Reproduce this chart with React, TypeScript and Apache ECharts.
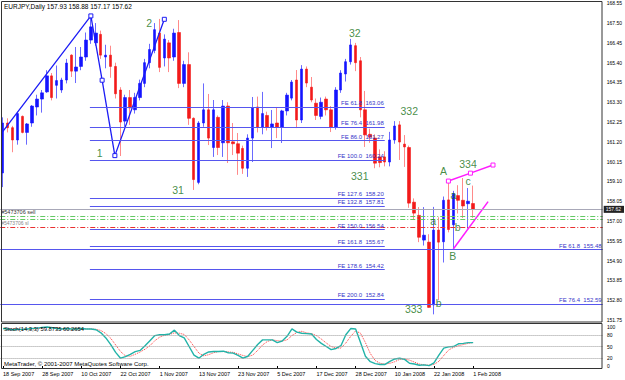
import React, { useEffect, useRef } from 'react';
import * as echarts from 'echarts';

// ---------- DATA ----------
const symbolName = 'EURJPY,Daily';
const dateLabels = ['18 Sep 2007', '28 Sep 2007', '10 Oct 2007', '22 Oct 2007', '1 Nov 2007', '13 Nov 2007', '23 Nov 2007', '5 Dec 2007', '17 Dec 2007', '28 Dec 2007', '10 Jan 2008', '22 Jan 2008', '1 Feb 2008'];
const barsPerLabel = 8;

const opens = [159.55, 162.2, 161.95, 161.3, 162.55, 161.7, 162.2, 163.05, 163.47, 163.85,
  164.7, 164.2, 163.95, 164.48, 165.8, 164.95, 165.2, 165.7, 166.6, 166.45,
  166.9, 165.7, 165.8, 165.2, 163.95, 162.3, 163.55, 162.9, 163.55, 164.3,
  165.4, 166.05, 166.97, 165.65, 166.45, 165.7, 167.0, 164.3, 165.3, 162.45,
  159.05, 162.2, 162.9, 160.9, 162.5, 161.15, 163.1, 161.2, 161.1, 160.85,
  159.8, 161.4, 163.05, 161.99, 162.6, 161.99, 162.2, 161.99, 162.84, 163.52,
  164.48, 162.36, 165.06, 164.1, 163.25, 162.55, 163.47, 162.9, 161.99, 163.95,
  164.8, 165.45, 166.3, 165.5, 162.9, 161.6, 161.4, 160.4, 160.4, 160.13,
  161.3, 162.1, 161.08, 160.9, 158.0, 157.3, 155.99, 155.88, 152.55, 156.52,
  155.9, 158.12, 156.8, 158.35, 158.1, 157.92, 157.93];
const highs = [162.5, 162.45, 162.05, 162.8, 162.6, 162.2, 163.15, 163.7, 163.95, 165.0,
  164.85, 165.25, 164.6, 165.6, 165.85, 166.23, 166.23, 167.0, 167.88, 167.5,
  167.1, 166.35, 166.3, 165.4, 164.1, 163.7, 163.95, 163.8, 164.5, 165.6,
  166.4, 167.5, 167.72, 166.9, 166.6, 167.2, 167.66, 165.5, 165.95, 162.5,
  162.3, 164.3, 163.74, 163.42, 162.6, 163.42, 163.3, 162.2, 161.67, 161.0,
  161.6, 163.58, 163.6, 163.85, 162.8, 162.89, 163.05, 162.9, 163.8, 164.48,
  165.01, 165.27, 165.2, 164.64, 163.5, 163.55, 163.6, 163.1, 164.1, 165.0,
  165.6, 166.66, 166.45, 165.7, 163.9, 161.9, 161.6, 160.8, 160.7, 161.73,
  162.3, 162.3, 161.56, 161.0, 158.2, 157.74, 157.74, 156.3, 157.75, 157.2,
  158.3, 159.12, 158.6, 158.9, 159.28, 158.75, 158.88];
const lows = [158.8, 161.7, 160.65, 161.05, 161.65, 161.05, 162.0, 162.6, 162.75, 163.8,
  163.4, 163.5, 163.8, 164.3, 164.64, 164.32, 165.0, 165.5, 166.4, 166.3,
  165.6, 165.1, 164.6, 163.5, 160.45, 162.0, 162.1, 162.7, 163.4, 164.1,
  165.1, 165.9, 164.9, 165.2, 164.9, 165.5, 164.05, 164.1, 162.1, 158.65,
  158.95, 162.0, 161.03, 160.4, 160.5, 160.4, 160.08, 160.5, 159.45, 159.5,
  159.34, 160.13, 161.7, 161.6, 161.8, 160.87, 161.4, 161.14, 162.6, 163.4,
  161.93, 162.2, 164.1, 163.3, 162.36, 162.4, 162.6, 161.72, 161.85, 163.8,
  164.4, 165.3, 164.95, 162.5, 160.93, 161.15, 159.8, 159.85, 159.9, 159.9,
  161.1, 160.24, 159.87, 157.7, 157.1, 155.88, 155.7, 152.4, 152.05, 152.8,
  154.8, 156.4, 155.5, 157.4, 157.16, 156.6, 157.17];
const closes = [162.2, 161.95, 161.3, 162.7, 161.7, 162.15, 163.1, 163.47, 163.8, 164.7,
  163.55, 164.45, 164.48, 165.38, 164.95, 165.17, 165.7, 166.6, 167.3, 166.97,
  165.8, 165.8, 165.2, 163.75, 162.25, 163.55, 163.0, 163.55, 164.3, 165.4,
  166.1, 167.15, 165.15, 166.65, 165.65, 166.97, 164.3, 165.3, 162.45, 159.2,
  162.2, 162.9, 161.4, 162.9, 160.9, 163.1, 161.15, 161.1, 160.6, 159.8,
  161.4, 162.99, 161.99, 162.7, 161.99, 162.15, 161.99, 162.84, 163.68, 164.37,
  162.36, 165.06, 164.32, 163.42, 162.6, 163.3, 162.9, 161.99, 163.95, 164.85,
  165.45, 166.34, 165.4, 162.9, 161.57, 161.45, 160.07, 160.1, 160.13, 161.3,
  162.04, 161.19, 160.93, 157.95, 157.42, 156.14, 156.25, 152.42, 156.52, 155.88,
  158.1, 156.55, 158.45, 158.1, 157.8, 158.05, 157.62];

const stochK = [96, 95, 93, 94, 94, 95, 96, 97, 99, 100,
  98, 96, 95, 96, 95, 95, 96, 95, 95, 93,
  85, 72, 55, 35, 20, 24, 30, 37, 40, 52,
  65, 78, 80, 80, 82, 92, 78, 72, 50, 28,
  20, 30, 36, 37, 37, 38, 34, 33, 27, 20,
  25, 40, 55, 67, 67, 67, 60, 64, 76, 95,
  87, 84, 83, 82, 68, 58, 50, 42, 45, 52,
  80, 96, 95, 60, 25, 11, 6, 4, 4, 12,
  18, 20, 17, 7, 5, 2, 3, 1, 8, 28,
  46, 49, 50, 57, 58, 60, 59.8735];
const stochD = [96, 96, 95, 94, 94, 94, 95, 96, 97, 99,
  99, 98, 96, 96, 95, 95, 95, 95, 95, 94,
  91, 83, 71, 54, 37, 26, 25, 30, 36, 43,
  52, 65, 74, 79, 81, 85, 84, 81, 67, 50,
  33, 26, 29, 34, 37, 37, 36, 35, 31, 27,
  24, 28, 40, 54, 63, 67, 65, 64, 67, 78,
  86, 89, 85, 83, 78, 69, 59, 50, 46, 46,
  59, 76, 90, 84, 60, 32, 14, 7, 5, 7,
  11, 17, 18, 15, 10, 5, 3, 2, 4, 12,
  27, 41, 48, 52, 55, 58, 60.2654];

const priceTickLabels = ['168.55', '167.50', '166.45', '165.40', '164.35', '163.30', '162.25', '161.20', '160.15', '159.10', '158.05', '157.00', '155.95', '154.90', '153.85', '152.80', '151.75'];
const stochTickLabels = [0, 20, 50, 80, 100];
const stochLevels = [20, 50, 80];

// Fibonacci expansion #1 (anchored between bar indexes)
const fe1Levels = [61.8, 76.4, 86.0, 100.0, 127.6, 132.8, 150.0, 161.8, 178.6, 200.0];
const fe1Prices = [163.06, 161.98, 161.27, 160.24, 158.20, 157.81, 156.54, 155.67, 154.42, 152.84];
const fe1Span = [17.8, 78.0];
// Fibonacci expansion #2 (full width)
const fe2Levels = [61.8, 76.4];
const fe2Prices = [155.48, 152.59];

const bidPrice = 157.62;
const orderTicket = '#5473706';
const orderGreenLevels = [157.28, 157.09];
const orderRedLevels = [156.67];

// drawn objects: [bar index, price]
const waveLine = [[0, 161.74], [18, 167.88], [20.3, 164.47], [22.9, 160.47], [33, 167.7]];
const magentaLine1 = [[91, 159.12], [95.5, 159.54], [100.1, 159.97]];
const magentaLine2 = [[92, 155.52], [99.1, 158.03]];
const waveLabels = [
  { text: '1', i: 19.8, p: 160.61 },
  { text: '2', i: 29.9, p: 167.52 },
  { text: '31', i: 35.8, p: 158.65 },
  { text: '32', i: 71.9, p: 167.0 },
  { text: '331', i: 72.9, p: 159.39 },
  { text: '332', i: 83.0, p: 162.84 },
  { text: '333', i: 83.9, p: 152.36 },
  { text: '334', i: 95.0, p: 160.05 },
  { text: 'A', i: 90.0, p: 159.63 },
  { text: 'B', i: 91.9, p: 155.14 },
  { text: 'a', i: 92.0, p: 158.4 },
  { text: 'a', i: 87.9, p: 157.02 },
  { text: 'b', i: 92.9, p: 156.7 },
  { text: 'b', i: 89.0, p: 152.66 },
  { text: 'c', i: 95.0, p: 159.1 },
];

// ---------- LAYOUT / STYLE ----------
const FONT = "'Liberation Sans', Arial, sans-serif";
const N_SLOTS = 123;
const SLOT = 4.9;
const GRID_LEFT = 0.25;
const BLUE = '#1414ff';
const RED = '#f21a1a';
const WICK_BLUE = '#6a6aff';
const WICK_RED = '#ff8a8a';
const FE_COLOR = '#5656ee';
const WAVE_GREEN = '#137013';

export default function App() {
  const ref = useRef<HTMLDivElement>(null);

  useEffect(() => {
    if (!ref.current) return;
    const chart = echarts.init(ref.current, undefined, { renderer: 'svg' });

    const n = opens.length;
    const cats = Array.from({ length: N_SLOTS }, (_, i) => String(i));
    const candleData = opens.map((o, i) => [o, closes[i], lows[i], highs[i]]);
    const bodyData = opens.map((o, i) => [o, closes[i], Math.min(o, closes[i]), Math.max(o, closes[i])]);
    const showDate = (idx: number) => idx % barsPerLabel === 0 && idx / barsPerLabel < dateLabels.length;

    const feLabel = (lvl: number, p: number) => `FE ${lvl.toFixed(1)}  ${p.toFixed(2)}`;
    const labelBase = { fontSize: 6, fontFamily: FONT, color: '#3535c8' };

    const fe1Lines = fe1Prices.map((p, k) => [
      {
        coord: [fe1Span[0], p],
        lineStyle: { color: FE_COLOR, width: 1, type: 'solid' },
        label: { show: true, position: 'insideEndTop', distance: 1, formatter: feLabel(fe1Levels[k], p), ...labelBase },
      },
      { coord: [fe1Span[1], p] },
    ]);
    const fe2Lines = fe2Prices.map((p, k) => ({
      yAxis: p,
      lineStyle: { color: FE_COLOR, width: 1, type: 'solid' },
      label: { show: true, position: 'insideEndTop', distance: 1, formatter: feLabel(fe2Levels[k], p), ...labelBase },
    }));
    const dashDot = [5, 2, 1, 2];
    const orderLines: any[] = [
      ...orderGreenLevels.map((p, k) => ({
        yAxis: p,
        lineStyle: { color: '#63c963', width: 1, type: dashDot },
        label: k === 0
          ? { show: true, position: 'insideStartTop', distance: 1, formatter: `${orderTicket} sell`, fontSize: 5.5, fontFamily: FONT, color: '#333' }
          : { show: true, position: 'insideStartBottom', distance: 1, formatter: `${orderTicket} sl`, fontSize: 5, fontFamily: FONT, color: '#888' },
      })),
      ...orderRedLevels.map((p) => ({
        yAxis: p,
        lineStyle: { color: '#e83030', width: 1, type: dashDot },
        label: { show: false },
      })),
    ];
    const bidLine = {
      yAxis: bidPrice,
      lineStyle: { color: '#a8a8b8', width: 1, type: 'solid' },
      label: {
        show: true, position: 'end', distance: 1, formatter: bidPrice.toFixed(2),
        backgroundColor: '#222', color: '#fff', padding: [1, 3, 1, 2], fontSize: 5, fontFamily: FONT,
      },
    };

    const option: any = {
      animation: false,
      backgroundColor: '#ffffff',
      grid: [
        { left: GRID_LEFT, top: 1.4, width: N_SLOTS * SLOT, height: 320.5, show: false },
        { left: GRID_LEFT, top: 323.1, width: N_SLOTS * SLOT, height: 44.85, show: false },
      ],
      xAxis: [
        { type: 'category', gridIndex: 0, data: cats, boundaryGap: true, show: false },
        {
          type: 'category', gridIndex: 1, data: cats, boundaryGap: true,
          axisLine: { show: false },
          axisTick: { show: true, alignWithLabel: true, interval: (idx: number) => showDate(idx), length: 3, lineStyle: { color: '#000' } },
          axisLabel: {
            interval: (idx: number) => showDate(idx),
            formatter: (_v: string, idx: number) => (showDate(idx) ? dateLabels[idx / barsPerLabel] : ''),
            align: 'left', fontSize: 5.5, fontFamily: FONT, color: '#000', margin: 3,
          },
          splitLine: { show: false },
        },
        { type: 'value', gridIndex: 0, min: -0.5, max: N_SLOTS - 0.5, show: false },
      ],
      yAxis: [
        {
          type: 'value', gridIndex: 0, position: 'right', min: 151.65, max: 168.65, interval: 0.05,
          axisLine: { show: false }, axisTick: { show: false }, splitLine: { show: false },
          axisLabel: {
            fontSize: 5, fontFamily: FONT, color: '#000', margin: 4,
            formatter: (v: number) => {
              const s = v.toFixed(2);
              return priceTickLabels.includes(s) ? s : '';
            },
          },
        },
        {
          type: 'value', gridIndex: 1, position: 'right', min: -5, max: 110, interval: 5,
          axisLine: { show: false }, axisTick: { show: false }, splitLine: { show: false },
          axisLabel: {
            fontSize: 5, fontFamily: FONT, color: '#000', margin: 4,
            formatter: (v: number) => {
              const r = Math.round(v);
              return Math.abs(v - r) < 1e-6 && stochTickLabels.includes(r) ? String(r) : '';
            },
          },
        },
      ],
      series: [
        {
          name: 'levels', type: 'line', xAxisIndex: 2, yAxisIndex: 0, data: [], z: 1,
          markLine: {
            silent: true, symbol: ['none', 'none'], animation: false,
            data: [...fe1Lines, ...fe2Lines, bidLine, ...orderLines],
          },
        },
        {
          name: 'wicks', type: 'candlestick', xAxisIndex: 0, yAxisIndex: 0, data: candleData, barWidth: 1, z: 2,
          itemStyle: { color: WICK_BLUE, color0: WICK_RED, borderColor: WICK_BLUE, borderColor0: WICK_RED, borderWidth: 1 },
        },
        {
          name: 'bodies', type: 'candlestick', xAxisIndex: 0, yAxisIndex: 0, data: bodyData, barWidth: 3, z: 3,
          itemStyle: { color: BLUE, color0: RED, borderColor: BLUE, borderColor0: RED, borderWidth: 0.6 },
        },
        {
          name: 'wave', type: 'line', xAxisIndex: 2, yAxisIndex: 0, z: 4,
          data: waveLine.map((pt, k) => (k === 0 ? { value: pt, symbol: 'none' } : { value: pt })),
          symbol: 'rect', symbolSize: 4, showSymbol: true,
          lineStyle: { color: '#1c1cf5', width: 1.3 },
          itemStyle: { color: '#fff', borderColor: '#1c1cf5', borderWidth: 1 },
        },
        {
          name: 'mag1', type: 'line', xAxisIndex: 2, yAxisIndex: 0, z: 4,
          data: magentaLine1, symbol: 'rect', symbolSize: 4, showSymbol: true,
          lineStyle: { color: '#ff1cff', width: 1.5 },
          itemStyle: { color: '#fff', borderColor: '#ff1cff', borderWidth: 1 },
        },
        {
          name: 'mag2', type: 'line', xAxisIndex: 2, yAxisIndex: 0, z: 4,
          data: magentaLine2, symbol: 'none',
          lineStyle: { color: '#ff1cff', width: 1.5 },
        },
        {
          name: 'waveLabels', type: 'scatter', xAxisIndex: 2, yAxisIndex: 0, z: 5,
          data: waveLabels.map((w) => ({ name: w.text, value: [w.i, w.p] })),
          symbolSize: 1, itemStyle: { color: 'rgba(0,0,0,0)' },
          label: { show: true, position: 'inside', formatter: '{b}', color: WAVE_GREEN, fontSize: 10.5, fontFamily: FONT },
        },
        {
          name: '%K', type: 'line', xAxisIndex: 1, yAxisIndex: 1, data: stochK, symbol: 'none', z: 3,
          lineStyle: { color: '#22b3a8', width: 1.4 },
          markLine: {
            silent: true, symbol: ['none', 'none'], animation: false,
            label: { show: false },
            lineStyle: { color: '#9a9a9a', type: 'dotted', width: 1 },
            data: stochLevels.map((v) => ({ yAxis: v })),
          },
        },
        {
          name: '%D', type: 'line', xAxisIndex: 1, yAxisIndex: 1, data: stochD, symbol: 'none', z: 2,
          lineStyle: { color: '#ff3a3a', width: 1, type: 'dotted' },
        },
      ],
      graphic: [
        { type: 'rect', z: 10, silent: true, shape: { x: 1.5, y: 1.5, width: 600.5, height: 320.5 }, style: { fill: 'none', stroke: '#333', lineWidth: 1 } },
        { type: 'rect', z: 10, silent: true, shape: { x: 1.5, y: 323.5, width: 600.5, height: 45 }, style: { fill: 'none', stroke: '#333', lineWidth: 1 } },
        {
          type: 'text', z: 11, left: 4, top: 3,
          style: {
            text: `${symbolName} ${opens[n - 1].toFixed(2)} ${highs[n - 1].toFixed(2)} ${lows[n - 1].toFixed(2)} ${closes[n - 1].toFixed(2)}`,
            fontSize: 6.5, fontFamily: FONT, fill: '#000',
          },
        },
        {
          type: 'text', z: 11, left: 4, top: 326,
          style: { text: `Stoch(14,3,3) ${stochK[n - 1]} ${stochD[n - 1]}`, fontSize: 5.8, fontFamily: FONT, fill: '#000' },
        },
        {
          type: 'text', z: 11, left: 4, top: 361,
          style: { text: 'MetaTrader, \u00A9 2001-2007 MetaQuotes Software Corp.', fontSize: 6, fontFamily: FONT, fill: '#000' },
        },
      ],
    };

    chart.setOption(option);
    return () => chart.dispose();
  }, []);

  return (
    <div
      ref={ref}
      style={{ position: 'fixed', left: 0, top: 0, width: 625, height: 380, background: '#fff' }}
    />
  );
}
